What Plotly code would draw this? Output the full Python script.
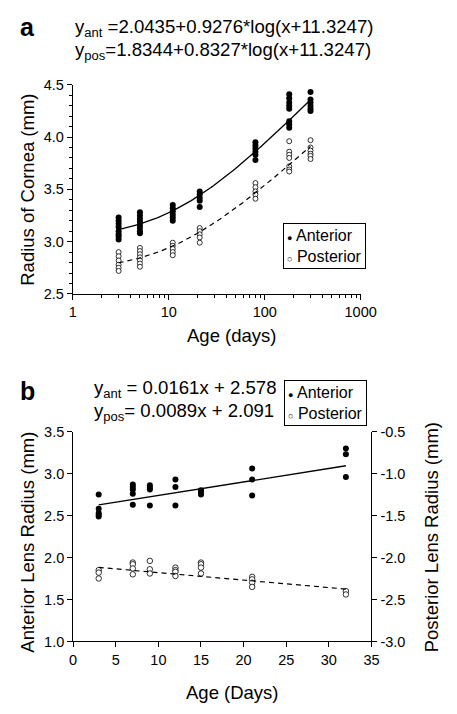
import numpy as np
import plotly.graph_objects as go

# ---------------- data: panel a (cornea) ----------------
age_a = [3, 5, 11, 21, 80, 180, 300]
cornea_ant = [
    [3.23, 3.20, 3.17, 3.14, 3.10, 3.07, 3.05, 3.02],
    [3.28, 3.25, 3.22, 3.19, 3.16, 3.13, 3.10, 3.08],
    [3.35, 3.32, 3.29, 3.26, 3.23, 3.20],
    [3.48, 3.45, 3.42, 3.39, 3.33],
    [3.95, 3.92, 3.89, 3.86, 3.83, 3.78],
    [4.41, 4.37, 4.33, 4.30, 4.27, 4.15, 4.12, 4.09],
    [4.43, 4.36, 4.33, 4.30, 4.27, 4.25],
]
cornea_pos = [
    [2.90, 2.86, 2.82, 2.78, 2.75, 2.72],
    [2.94, 2.91, 2.88, 2.85, 2.82, 2.79, 2.76],
    [2.99, 2.96, 2.93, 2.90, 2.87],
    [3.13, 3.10, 3.07, 3.04, 2.99],
    [3.56, 3.52, 3.48, 3.45, 3.41],
    [3.96, 3.86, 3.83, 3.80, 3.72, 3.69, 3.67],
    [3.97, 3.90, 3.87, 3.84, 3.82, 3.79],
]
fit_a_ant = [2.0435, 0.9276, 11.3247]
fit_a_pos = [1.8344, 0.8327, 11.3247]

# ---------------- data: panel b (lens) ----------------
age_b = [3, 7, 9, 12, 15, 21, 32]
lens_ant = [
    [2.75, 2.58, 2.53, 2.51, 2.49],
    [2.87, 2.84, 2.81, 2.76, 2.63],
    [2.86, 2.83, 2.81, 2.62],
    [2.93, 2.84, 2.62],
    [2.80, 2.78, 2.75],
    [3.06, 2.93, 2.74],
    [3.30, 3.23, 2.96],
]
lens_pos = [
    [-2.15, -2.18, -2.25],
    [-2.06, -2.08, -2.13, -2.20],
    [-2.04, -2.14, -2.19],
    [-2.12, -2.15, -2.17, -2.22],
    [-2.06, -2.08, -2.12, -2.19],
    [-2.23, -2.26, -2.30, -2.35],
    [-2.40, -2.44],
]
fit_b_ant = [0.0161, 2.578]
fit_b_pos = [0.0089, 2.091]

xticks_a = [1, 10, 100, 1000]
xticklabels_a = ["1", "10", "100", "1000"]
yticks_b2 = [-3.0, -2.5, -2.0, -1.5, -1.0, -0.5]
yticklabels_b2 = ["-3.0", "-2.5", "-2.0", "-1.5", "-1.0", "-0.5"]

eq_a = ["y<sub>ant</sub> =2.0435+0.9276*log(x+11.3247)",
        "y<sub>pos</sub>=1.8344+0.8327*log(x+11.3247)"]
eq_b = ["y<sub>ant</sub> = 0.0161x + 2.578",
        "y<sub>pos</sub>= 0.0089x + 2.091"]

# ---------------- helpers ----------------
W, H = 457, 714
FONT = "Liberation Sans, Arial, sans-serif"


def px(x):
    return x / W


def py(y):
    return 1 - y / H


def flat(xs, groups):
    X, Y = [], []
    for x, g in zip(xs, groups):
        for v in g:
            X.append(x)
            Y.append(v)
    return X, Y


fig = go.Figure()

# panel a points
xa, ya = flat(age_a, cornea_ant)
fig.add_trace(go.Scatter(x=xa, y=ya, mode="markers", xaxis="x", yaxis="y",
                         marker=dict(size=6, color="black"), showlegend=False))
xp, yp = flat(age_a, cornea_pos)
fig.add_trace(go.Scatter(x=xp, y=yp, mode="markers", xaxis="x", yaxis="y",
                         marker=dict(size=5, color="white", line=dict(color="black", width=0.8)),
                         showlegend=False))
xfit = np.logspace(np.log10(age_a[0]), np.log10(age_a[-1]), 120)
fig.add_trace(go.Scatter(x=xfit, y=fit_a_ant[0] + fit_a_ant[1] * np.log10(xfit + fit_a_ant[2]),
                         mode="lines", xaxis="x", yaxis="y",
                         line=dict(color="black", width=1.3), showlegend=False))
fig.add_trace(go.Scatter(x=xfit, y=fit_a_pos[0] + fit_a_pos[1] * np.log10(xfit + fit_a_pos[2]),
                         mode="lines", xaxis="x", yaxis="y",
                         line=dict(color="black", width=1.2, dash="5px,4px"), showlegend=False))

# panel b points
xb, yb = flat(age_b, lens_ant)
fig.add_trace(go.Scatter(x=xb, y=yb, mode="markers", xaxis="x2", yaxis="y3",
                         marker=dict(size=6, color="black"), showlegend=False))
xbp, ybp = flat(age_b, lens_pos)
fig.add_trace(go.Scatter(x=xbp, y=ybp, mode="markers", xaxis="x2", yaxis="y4",
                         marker=dict(size=5.5, color="white", line=dict(color="black", width=0.8)),
                         showlegend=False))
xl = np.array([age_b[0], age_b[-1]], dtype=float)
fig.add_trace(go.Scatter(x=xl, y=fit_b_ant[0] * xl + fit_b_ant[1], mode="lines",
                         xaxis="x2", yaxis="y3",
                         line=dict(color="black", width=1.3), showlegend=False))
fig.add_trace(go.Scatter(x=xl, y=-(fit_b_pos[0] * xl + fit_b_pos[1]), mode="lines",
                         xaxis="x2", yaxis="y4",
                         line=dict(color="black", width=1.2, dash="5px,4px"), showlegend=False))

axis_common = dict(showline=True, linecolor="black", linewidth=1, ticks="outside",
                   ticklen=5, tickwidth=1, tickcolor="black", showgrid=False,
                   zeroline=False, tickfont=dict(family=FONT, size=14.5, color="black"))

fig.update_layout(
    width=W, height=H, margin=dict(l=0, r=0, t=0, b=0),
    paper_bgcolor="white", plot_bgcolor="white",
    font=dict(family=FONT, color="black"),
    xaxis=dict(domain=[px(72), px(373)], anchor="y", type="log", range=[0, 3],
               tickvals=xticks_a, ticktext=xticklabels_a,
               minor=dict(ticks="outside", ticklen=3, tickcolor="black", dtick="D1", showgrid=False),
               **axis_common),
    yaxis=dict(domain=[py(292.5), py(78.5)], anchor="x", range=[2.5, 4.5], dtick=0.5,
               tickformat=".1f",
               minor=dict(ticks="outside", ticklen=3, tickcolor="black", dtick=0.1, showgrid=False),
               **axis_common),
    xaxis2=dict(domain=[px(72.3), px(384.3)], anchor="y3", range=[0, 35], dtick=5,
                **axis_common),
    yaxis3=dict(domain=[py(648), py(433.3)], anchor="x2", range=[1.0, 3.5], dtick=0.5,
                tickformat=".1f", **axis_common),
    yaxis4=dict(domain=[py(648), py(433.3)], anchor="x2", overlaying="y3", side="right",
                range=[-3.0, -0.5], tickvals=yticks_b2, ticktext=yticklabels_b2,
                **axis_common),
)


def note(text, x, y, size, xanchor="center", yanchor="middle", **kw):
    return dict(text=text, x=px(x), y=py(y), xref="paper", yref="paper",
                xanchor=xanchor, yanchor=yanchor, showarrow=False,
                font=dict(family=FONT, size=size, color="black"), **kw)


ann = []
ann.append(note("<b>a</b>", 25, 19, 25))
ann.append(note("<b>b</b>", 25, 392, 25))
for i, t in enumerate(eq_a):
    ann.append(note(t, 72, 20 + 24 * i, 18.6, xanchor="left"))
for i, t in enumerate(eq_b):
    ann.append(note(t, 92, 390 + 23 * i, 18.6, xanchor="left"))

legend_txt = ("<span style='font-size:9px'>\u25cf</span> Anterior<br>"
              "<span style='font-size:9px'>\u25cb</span> Posterior")
ann.append(note(legend_txt, 292, 220, 16, xanchor="left", yanchor="top", align="left",
                bordercolor="black", borderwidth=1, borderpad=3, bgcolor="white"))
ann.append(note(legend_txt, 293, 381, 16, xanchor="left", yanchor="top", align="left",
                bordercolor="black", borderwidth=1, borderpad=3, bgcolor="white"))

# axis titles
ann.append(note("Radius of Cornea (mm)", 25, 186, 18.5, textangle=-90))
ann.append(note("Age (days)", 238, 335, 18.5))
ann.append(note("Anterior Lens Radius (mm)", 25, 546, 18.5, textangle=-90))
ann.append(note("Posterior Lens Radius (mm)", 447, 541, 18.5, textangle=-90))
ann.append(note("Age (Days)", 239, 700, 18.5))
fig.update_layout(annotations=ann)

fig.write_html("out.html")
